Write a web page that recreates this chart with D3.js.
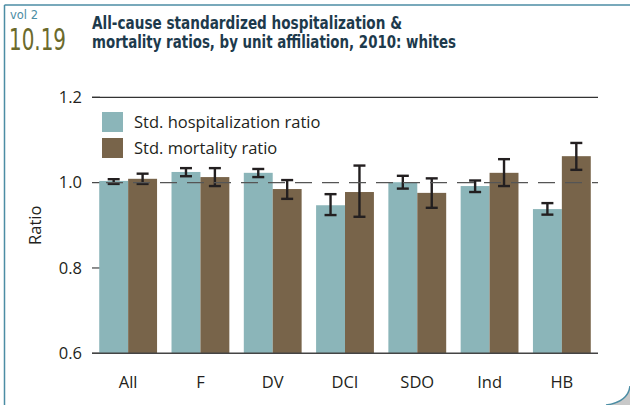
<!DOCTYPE html>
<html><head><meta charset="utf-8">
<script src="https://cdn.jsdelivr.net/npm/d3@7"></script>
<style>
body{margin:0;background:#fff;}
svg{display:block;}
</style></head>
<body>
<svg id="chart" width="630" height="405"></svg>
<script>
const categories = ["All","F","DV","DCI","SDO","Ind","HB"];
const seriesNames = ["Std. hospitalization ratio","Std. mortality ratio"];
const hospValues = [1.004,1.025,1.023,0.947,1.001,0.992,0.938];
const hospLow    = [0.997,1.015,1.013,0.924,0.986,0.978,0.925];
const hospHigh   = [1.008,1.034,1.032,0.973,1.016,1.005,0.952];
const mortValues = [1.009,1.013,0.985,0.978,0.976,1.023,1.062];
const mortLow    = [0.997,0.992,0.962,0.920,0.941,0.992,1.030];
const mortHigh   = [1.021,1.034,1.006,1.040,1.010,1.055,1.093];
const yTicks = [0.6,0.8,1.0,1.2];
const colors = ["#8bb5b9","#78644a"];

const svg = d3.select("#chart");
const margin = {left:92, right:32, top:97.3, bottom:51.7};
const W = 630, H = 405;
const x0 = d3.scaleBand().domain(categories).range([margin.left, W-margin.right]).paddingInner(0.2).paddingOuter(0.1);
const x1 = d3.scaleBand().domain([0,1]).range([0, x0.bandwidth()]);
const y = d3.scaleLinear().domain([0.6,1.2]).range([H-margin.bottom, margin.top]);

// frame
const frameColor = "#4b8da4";
svg.append("line").attr("x1",4.5).attr("x2",4.5).attr("y1",5).attr("y2",405).attr("stroke",frameColor).attr("stroke-width",1.5);
svg.append("line").attr("x1",4.5).attr("x2",630).attr("y1",5).attr("y2",5).attr("stroke",frameColor).attr("stroke-width",1.5);
// page curl corner
svg.append("path").attr("d","M630,386 Q628,402 606,405 L630,405 Z").attr("fill","#c8c8c8");
svg.append("path").attr("d","M630,386 Q628,402 606,405").attr("fill","none").attr("stroke",frameColor).attr("stroke-width",1.5);

// header
const condFont = "'DejaVu Sans Condensed', 'Liberation Sans Narrow', sans-serif";
svg.append("text").attr("x",10).attr("y",19).attr("fill","#4b8da4")
  .attr("font-family",condFont).attr("font-size",12)
  .attr("textLength",28).attr("lengthAdjust","spacingAndGlyphs").text("vol 2");
svg.append("text").attr("x",9).attr("y",50).attr("fill","#6b6a2c")
  .attr("font-family",condFont).attr("font-size",30)
  .attr("textLength",57).attr("lengthAdjust","spacingAndGlyphs").text("10.19");
const titleLines = ["All-cause standardized hospitalization &","mortality ratios, by unit affiliation, 2010: whites"];
const titleW = [310,364];
titleLines.forEach((t,i)=>{
  svg.append("text").attr("x",92).attr("y",29+i*19).attr("fill","#1d3a4c")
    .attr("font-family",condFont).attr("font-weight","bold").attr("font-size",18.5)
    .attr("textLength",titleW[i]).attr("lengthAdjust","spacingAndGlyphs").text(t);
});

const fontFam = "'Open Sans', Lato, sans-serif";
const fs = 16.5;
// y axis ticks
const gy = svg.append("g");
yTicks.forEach(v=>{
  gy.append("line").attr("x1",92).attr("x2",100).attr("y1",y(v)).attr("y2",y(v)).attr("stroke","#444").attr("stroke-width",1.2);
  gy.append("text").attr("x",82).attr("y",y(v)).attr("dy","0.35em").attr("text-anchor","end")
    .attr("font-family",fontFam).attr("font-size",fs).attr("fill","#231f20").text(v.toFixed(1));
});
svg.append("line").attr("x1",92).attr("x2",W-margin.right).attr("y1",y(1.2)).attr("y2",y(1.2)).attr("stroke","#333").attr("stroke-width",1.2);
svg.append("text").attr("transform",`translate(41,${(y(0.6)+y(1.2))/2}) rotate(-90)`).attr("text-anchor","middle")
  .attr("font-family",fontFam).attr("font-size",fs).attr("fill","#231f20").text("Ratio");

// bars
const data = categories.map((c,i)=>({c, vals:[
  {s:0,v:hospValues[i],lo:hospLow[i],hi:hospHigh[i]},
  {s:1,v:mortValues[i],lo:mortLow[i],hi:mortHigh[i]}]}));
const g = svg.selectAll("g.grp").data(data).join("g").attr("class","grp").attr("transform",d=>`translate(${x0(d.c)},0)`);
g.selectAll("rect").data(d=>d.vals).join("rect")
  .attr("x",d=>x1(d.s)).attr("width",x1.bandwidth())
  .attr("y",d=>y(d.v)).attr("height",d=>y(0.6)-y(d.v)).attr("fill",d=>colors[d.s]);

// reference dashed line at 1.0
svg.append("line").attr("x1",100).attr("x2",W-margin.right).attr("y1",y(1.0)).attr("y2",y(1.0))
  .attr("stroke","#555").attr("stroke-width",1.4).attr("stroke-dasharray","17,10").attr("stroke-dashoffset",-6);

// error bars
const eb = g.selectAll("g.eb").data(d=>d.vals).join("g").attr("class","eb")
  .attr("transform",d=>`translate(${x1(d.s)+x1.bandwidth()/2},0)`);
eb.append("line").attr("y1",d=>y(d.lo)).attr("y2",d=>y(d.hi)).attr("stroke","#231f20").attr("stroke-width",2.4);
eb.append("line").attr("x1",-6).attr("x2",6).attr("y1",d=>y(d.lo)).attr("y2",d=>y(d.lo)).attr("stroke","#231f20").attr("stroke-width",2.4);
eb.append("line").attr("x1",-6).attr("x2",6).attr("y1",d=>y(d.hi)).attr("y2",d=>y(d.hi)).attr("stroke","#231f20").attr("stroke-width",2.4);

// x axis
svg.append("line").attr("x1",92).attr("x2",W-margin.right).attr("y1",y(0.6)).attr("y2",y(0.6)).attr("stroke","#444").attr("stroke-width",1.5);
svg.selectAll("text.xl").data(categories).join("text").attr("class","xl")
  .attr("x",d=>x0(d)+x0.bandwidth()/2).attr("y",388).attr("text-anchor","middle")
  .attr("font-family",fontFam).attr("font-size",fs).attr("fill","#231f20").text(d=>d);

// legend
seriesNames.forEach((n,i)=>{
  svg.append("rect").attr("x",102).attr("y",112+i*26).attr("width",21).attr("height",20).attr("fill",colors[i]);
  svg.append("text").attr("x",134).attr("y",128+i*26).attr("font-family",fontFam).attr("font-size",fs).attr("fill","#231f20").text(n);
});
</script>
</body></html>
